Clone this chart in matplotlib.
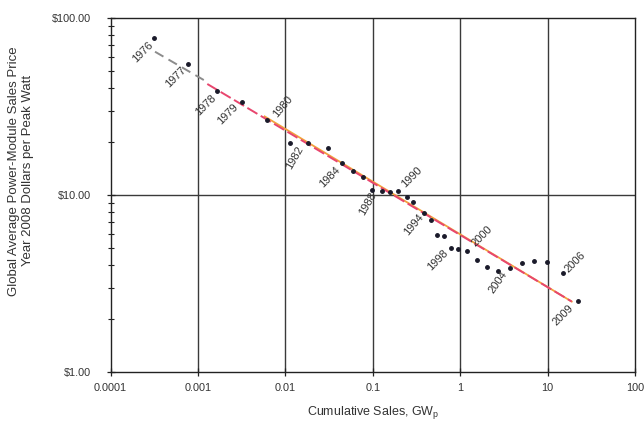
import matplotlib
matplotlib.use("Agg")
import matplotlib.pyplot as plt
from matplotlib.ticker import FixedLocator, LogLocator, NullFormatter

plt.rcParams['font.family'] = ['Liberation Sans', 'DejaVu Sans']

# ---- data ----
years = [1976, 1977, 1978, 1979, 1980, 1982, 1983, 1984, 1985, 1986, 1987,
         1988, 1989, 1990, 1991, 1992, 1993, 1994, 1995, 1996, 1997, 1998,
         1999, 2000, 2001, 2002, 2003, 2004, 2005, 2006, 2007, 2008, 2009]
cum_sales = [0.000317, 0.000776, 0.00167, 0.00317, 0.00618, 0.0113, 0.0183,
             0.0310, 0.0441, 0.060, 0.0775, 0.0975, 0.127, 0.157, 0.195,
             0.244, 0.292, 0.384, 0.465, 0.54, 0.649, 0.78, 0.953, 1.19,
             1.55, 2.01, 2.69, 3.72, 5.07, 7.01, 9.95, 15.2, 22.5]
price = [77.4, 54.7, 38.8, 33.7, 26.7, 19.6, 19.6, 18.5, 15.1, 13.7, 12.7,
         10.7, 10.5, 10.4, 10.5, 9.7, 9.1, 7.96, 7.19, 5.98, 5.84, 5.0,
         4.95, 4.83, 4.29, 3.94, 3.72, 3.85, 4.11, 4.24, 4.2, 3.64, 2.53]

early_trend_x = [0.000323, 0.00117]
early_trend_y = [64.5, 44.6]
trend_x = [0.00128, 18.9]
trend_y = [42.4, 2.5]
orange_x = [0.0058, 18.9]
orange_y = [27.8, 2.5]

labeled_years = ["1976", "1977", "1978", "1979", "1980", "1982", "1984",
                 "1988", "1990", "1994", "1998", "2000", "2004", "2006", "2009"]
label_anchor_year = [1976, 1977, 1978, 1979, 1980, 1982, 1985,
                     1988, 1991, 1994, 1998, 2000, 2004, 2008, 2009]

x_ticks = [0.0001, 0.001, 0.01, 0.1, 1, 10, 100]
x_ticklabels = ["0.0001", "0.001", "0.01", "0.1", "1", "10", "100"]
y_ticks = [1, 10, 100]
y_ticklabels = ["$1.00", "$10.00", "$100.00"]

# ---- styles ----
label_offsets = [(-12, -14), (-13, -13), (-12, -14), (-14, -13), (16, 13),
                 (5, -14), (-12, -14), (-4, -14), (14, 14), (-10, -12),
                 (-13, -12), (15, 15), (-12, -14), (12, 11), (-15, -15)]
label_rot = [45, 45, 45, 45, 50, 60, 45, 60, 45, 50, 45, 45, 55, 45, 45]

fig = plt.figure(figsize=(6.44, 4.22), dpi=100)
ax = fig.add_axes([0.1716, 0.1185, 0.9860 - 0.1716, 0.9573 - 0.1185])
ax.set_xscale('log')
ax.set_yscale('log')
ax.set_xlim(0.0001, 100)
ax.set_ylim(1, 100)

# gridlines
for xv in x_ticks[1:-1]:
    ax.axvline(xv, color='#3a3a3a', lw=1.0, zorder=1)
ax.axhline(10, color='#3a3a3a', lw=1.0, zorder=1)

ax.plot(early_trend_x, early_trend_y, color='#8c8c8c', lw=1.4,
        ls=(0, (5, 3)), zorder=2)
ax.plot(orange_x, orange_y, color='#f2a23c', lw=1.3, zorder=2)
ax.plot(trend_x, trend_y, color='#e8466e', lw=1.4, ls=(0, (6, 2)), zorder=3)

ax.plot(cum_sales, price, ls='none', marker='o', ms=2.5, color='#1a1a2a',
        zorder=4)

for txt, ay, off, rot in zip(labeled_years, label_anchor_year,
                             label_offsets, label_rot):
    i = years.index(ay)
    ax.annotate(txt, (cum_sales[i], price[i]), xytext=off,
                textcoords='offset pixels', ha='center', va='center',
                rotation=rot, fontsize=8, color='#333333', zorder=5)

ax.xaxis.set_major_locator(FixedLocator(x_ticks))
ax.set_xticklabels(x_ticklabels)
ax.xaxis.set_minor_formatter(NullFormatter())
ax.xaxis.set_minor_locator(FixedLocator([]))
ax.yaxis.set_major_locator(FixedLocator(y_ticks))
ax.set_yticklabels(y_ticklabels)
ax.yaxis.set_minor_locator(LogLocator(base=10, subs=range(2, 10)))
ax.yaxis.set_minor_formatter(NullFormatter())

ax.tick_params(axis='both', which='major', direction='inout', length=6,
               width=0.9, color='#222222', labelsize=7.8, labelcolor='#333333')
ax.tick_params(axis='x', which='major', pad=5)
ax.tick_params(axis='y', which='major', pad=11)
ax.tick_params(axis='y', which='minor', direction='inout', length=5,
               width=0.8, color='#222222')
for s in ax.spines.values():
    s.set_color('#222222')
    s.set_linewidth(1.0)

ax.set_xlabel("Cumulative Sales, GW$_\\mathregular{p}$", fontsize=9,
              color='#333333', labelpad=8)
ax.set_ylabel("Global Average Power-Module Sales Price\nYear 2008 Dollars per Peak Watt",
              fontsize=9.5, color='#333333')
ax.yaxis.set_label_coords(-0.146, 0.568)

fig.savefig("out.png", dpi=100)
